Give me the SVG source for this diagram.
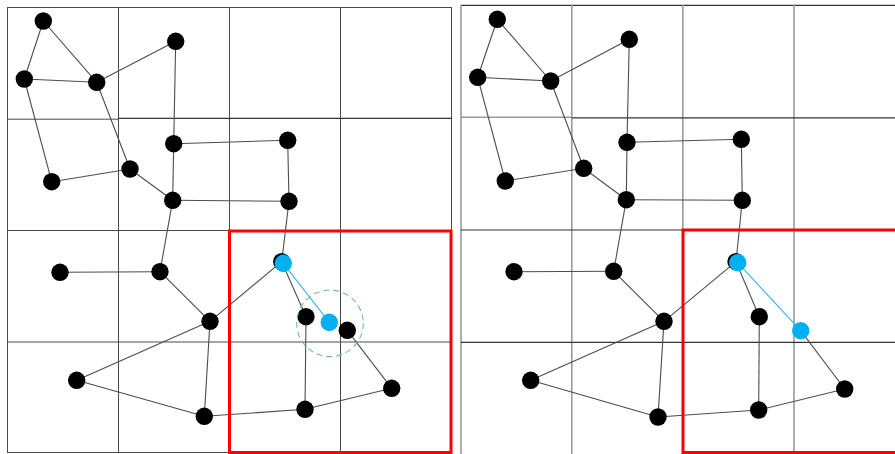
<svg xmlns="http://www.w3.org/2000/svg" width="895" height="454" viewBox="0 0 895 454">
<style>
.bg{fill:#ffffff}
.g{stroke:#4a4a4a;stroke-width:1;fill:none}
.gv{stroke:#9a9a9a;stroke-width:1.6;fill:none}
.gh{stroke:#333333;stroke-width:1.2;fill:none}
.e{stroke:#4d4d4d;stroke-width:1.1;fill:none}
.c{stroke:#38b6e8;stroke-width:1.1;fill:none}
.n{fill:#000000}
.cy{fill:#00b0f0}
.red{stroke:#ff0000;stroke-width:3;fill:none}
.dash{stroke:#6cc38a;stroke-width:1.1;fill:none;stroke-dasharray:6 4}
</style>
<rect class="bg" x="0" y="0" width="895" height="454"/>
<g id="grid-left">
<rect class="g" x="7.5" y="7.5" width="444" height="445"/>
<line class="g" x1="118.5" y1="7" x2="118.5" y2="453"/>
<line class="g" x1="229.5" y1="7" x2="229.5" y2="453"/>
<line class="g" x1="340.5" y1="7" x2="340.5" y2="453"/>
<line class="g" x1="7" y1="119.2" x2="118.5" y2="119.2"/>
<line class="gh" x1="118.5" y1="118.3" x2="452" y2="118.3"/>
<line class="g" x1="7" y1="230.5" x2="452" y2="230.5"/>
<line class="g" x1="7" y1="342" x2="452" y2="342"/>
</g>
<g id="grid-right">
<line class="gh" x1="461" y1="5.3" x2="895" y2="5.3"/>
<line class="gv" x1="461" y1="5" x2="461" y2="454"/>
<line class="gv" x1="571.8" y1="5" x2="571.8" y2="454"/>
<line class="gv" x1="682.8" y1="5" x2="682.8" y2="454"/>
<line class="gv" x1="794" y1="5" x2="794" y2="454"/>
<line class="gv" x1="461" y1="117.3" x2="571.8" y2="117.3"/>
<line class="gh" x1="571.8" y1="117.8" x2="895" y2="117.8"/>
<line class="gh" x1="461" y1="230" x2="895" y2="230"/>
<line class="gh" x1="461" y1="342.3" x2="895" y2="342.3"/>
</g>
<g id="connectors">
<!-- left -->
<line class="e" x1="43.3" y1="21" x2="24.3" y2="79"/>
<line class="e" x1="43.3" y1="21" x2="96.7" y2="82.3"/>
<line class="e" x1="24.3" y1="79" x2="96.7" y2="82.3"/>
<line class="e" x1="96.7" y1="82.3" x2="175.7" y2="41.3"/>
<line class="e" x1="24.3" y1="79" x2="51.7" y2="181.7"/>
<line class="e" x1="96.7" y1="82.3" x2="130" y2="169"/>
<line class="e" x1="175.7" y1="41.3" x2="173.7" y2="143.7"/>
<line class="e" x1="51.7" y1="181.7" x2="130" y2="169"/>
<line class="e" x1="130" y1="169" x2="172.7" y2="200.3"/>
<line class="e" x1="173.7" y1="143.7" x2="172.7" y2="200.3"/>
<line class="e" x1="173.7" y1="143.7" x2="287.7" y2="140.3"/>
<line class="e" x1="172.7" y1="200.3" x2="289" y2="201.3"/>
<line class="e" x1="287.7" y1="140.3" x2="289" y2="201.3"/>
<line class="e" x1="172.7" y1="200.3" x2="160" y2="271.7"/>
<line class="e" x1="289" y1="201.3" x2="281.7" y2="261.7"/>
<line class="e" x1="60" y1="272.3" x2="160" y2="271.7"/>
<line class="e" x1="160" y1="271.7" x2="210" y2="321.3"/>
<line class="e" x1="210" y1="321.3" x2="76.7" y2="380.3"/>
<line class="e" x1="210" y1="321.3" x2="204.3" y2="416.3"/>
<line class="e" x1="76.7" y1="380.3" x2="204.3" y2="416.3"/>
<line class="e" x1="210" y1="321.3" x2="281.7" y2="261.7"/>
<line class="e" x1="281.7" y1="261.7" x2="306" y2="316.7"/>
<line class="e" x1="306" y1="316.7" x2="305" y2="409.3"/>
<line class="e" x1="204.3" y1="416.3" x2="305" y2="409.3"/>
<line class="e" x1="305" y1="409.3" x2="391.7" y2="388.3"/>
<line class="e" x1="347.3" y1="330.3" x2="391.7" y2="388.3"/>
<line class="c" x1="283.3" y1="263.3" x2="329.3" y2="322.3"/>
<!-- right -->
<line class="e" x1="497.3" y1="19.3" x2="477.7" y2="77.3"/>
<line class="e" x1="497.3" y1="19.3" x2="550.7" y2="81"/>
<line class="e" x1="477.7" y1="77.3" x2="550.7" y2="81"/>
<line class="e" x1="550.7" y1="81" x2="629.3" y2="39.3"/>
<line class="e" x1="477.7" y1="77.3" x2="505.3" y2="181"/>
<line class="e" x1="550.7" y1="81" x2="583.7" y2="168.3"/>
<line class="e" x1="629.3" y1="39.3" x2="627" y2="142.3"/>
<line class="e" x1="505.3" y1="181" x2="583.7" y2="168.3"/>
<line class="e" x1="583.7" y1="168.3" x2="626.3" y2="199.7"/>
<line class="e" x1="627" y1="142.3" x2="626.3" y2="199.7"/>
<line class="e" x1="627" y1="142.3" x2="741.3" y2="139.3"/>
<line class="e" x1="626.3" y1="199.7" x2="742.3" y2="200.3"/>
<line class="e" x1="741.3" y1="139.3" x2="742.3" y2="200.3"/>
<line class="e" x1="626.3" y1="199.7" x2="613.7" y2="271.3"/>
<line class="e" x1="742.3" y1="200.3" x2="736" y2="261.7"/>
<line class="e" x1="514" y1="271.7" x2="613.7" y2="271.3"/>
<line class="e" x1="613.7" y1="271.3" x2="664" y2="321.3"/>
<line class="e" x1="664" y1="321.3" x2="530.7" y2="380.3"/>
<line class="e" x1="664" y1="321.3" x2="658" y2="417"/>
<line class="e" x1="530.7" y1="380.3" x2="658" y2="417"/>
<line class="e" x1="664" y1="321.3" x2="736" y2="261.7"/>
<line class="e" x1="736" y1="261.7" x2="759.3" y2="316.7"/>
<line class="e" x1="759.3" y1="316.7" x2="758.7" y2="410"/>
<line class="e" x1="658" y1="417" x2="758.7" y2="410"/>
<line class="e" x1="758.7" y1="410" x2="844.7" y2="389"/>
<line class="e" x1="800.7" y1="330.7" x2="844.7" y2="389"/>
<line class="c" x1="737.7" y1="262.7" x2="800.7" y2="330.7"/>
</g>
<g id="left-nodes">
<circle id="L-A" class="n" cx="43.3" cy="21" r="8.7"/>
<circle id="L-B" class="n" cx="24.3" cy="79" r="8.7"/>
<circle id="L-C" class="n" cx="96.7" cy="82.3" r="8.7"/>
<circle id="L-D" class="n" cx="175.7" cy="41.3" r="8.7"/>
<circle id="L-E" class="n" cx="51.7" cy="181.7" r="8.7"/>
<circle id="L-F" class="n" cx="130" cy="169" r="8.7"/>
<circle id="L-G" class="n" cx="173.7" cy="143.7" r="8.7"/>
<circle id="L-H" class="n" cx="172.7" cy="200.3" r="8.7"/>
<circle id="L-I" class="n" cx="287.7" cy="140.3" r="8.7"/>
<circle id="L-J" class="n" cx="289" cy="201.3" r="8.7"/>
<circle id="L-K" class="n" cx="60" cy="272.3" r="8.7"/>
<circle id="L-L" class="n" cx="160" cy="271.7" r="8.7"/>
<circle id="L-M" class="n" cx="210" cy="321.3" r="8.7"/>
<circle id="L-N" class="n" cx="76.7" cy="380.3" r="8.7"/>
<circle id="L-O" class="n" cx="204.3" cy="416.3" r="8.7"/>
<g id="L-P"><circle class="n" cx="281.7" cy="261.7" r="8.7"/><circle class="cy" cx="283.3" cy="263.3" r="8.7"/></g>
<circle id="L-Q" class="n" cx="306" cy="316.7" r="8.7"/>
<circle id="L-S" class="n" cx="347.3" cy="330.3" r="8.7"/>
<circle id="L-R" class="cy" cx="329.3" cy="322.3" r="8.7"/>
<circle id="L-T" class="n" cx="391.7" cy="388.3" r="8.7"/>
<circle id="L-U" class="n" cx="305" cy="409.3" r="8.7"/>
<circle id="L-range" class="dash" cx="330" cy="323.3" r="33.3"/>
</g>
<g id="right-nodes">
<circle id="R-A" class="n" cx="497.3" cy="19.3" r="8.7"/>
<circle id="R-B" class="n" cx="477.7" cy="77.3" r="8.7"/>
<circle id="R-C" class="n" cx="550.7" cy="81" r="8.7"/>
<circle id="R-D" class="n" cx="629.3" cy="39.3" r="8.7"/>
<circle id="R-E" class="n" cx="505.3" cy="181" r="8.7"/>
<circle id="R-F" class="n" cx="583.7" cy="168.3" r="8.7"/>
<circle id="R-G" class="n" cx="627" cy="142.3" r="8.7"/>
<circle id="R-H" class="n" cx="626.3" cy="199.7" r="8.7"/>
<circle id="R-I" class="n" cx="741.3" cy="139.3" r="8.7"/>
<circle id="R-J" class="n" cx="742.3" cy="200.3" r="8.7"/>
<circle id="R-K" class="n" cx="514" cy="271.7" r="8.7"/>
<circle id="R-L" class="n" cx="613.7" cy="271.3" r="8.7"/>
<circle id="R-M" class="n" cx="664" cy="321.3" r="8.7"/>
<circle id="R-N" class="n" cx="530.7" cy="380.3" r="8.7"/>
<circle id="R-O" class="n" cx="658" cy="417" r="8.7"/>
<g id="R-P"><circle class="n" cx="736" cy="261.7" r="8.7"/><circle class="cy" cx="737.7" cy="262.7" r="8.7"/></g>
<circle id="R-Q" class="n" cx="759.3" cy="316.7" r="8.7"/>
<circle id="R-R" class="cy" cx="800.7" cy="330.7" r="8.7"/>
<circle id="R-T" class="n" cx="844.7" cy="389" r="8.7"/>
<circle id="R-U" class="n" cx="758.7" cy="410" r="8.7"/>
</g>
<g id="highlights">
<rect class="red" x="229.5" y="231" width="221.5" height="221.5"/>
<rect class="red" x="683" y="230" width="214" height="222.5"/>
</g>
</svg>
